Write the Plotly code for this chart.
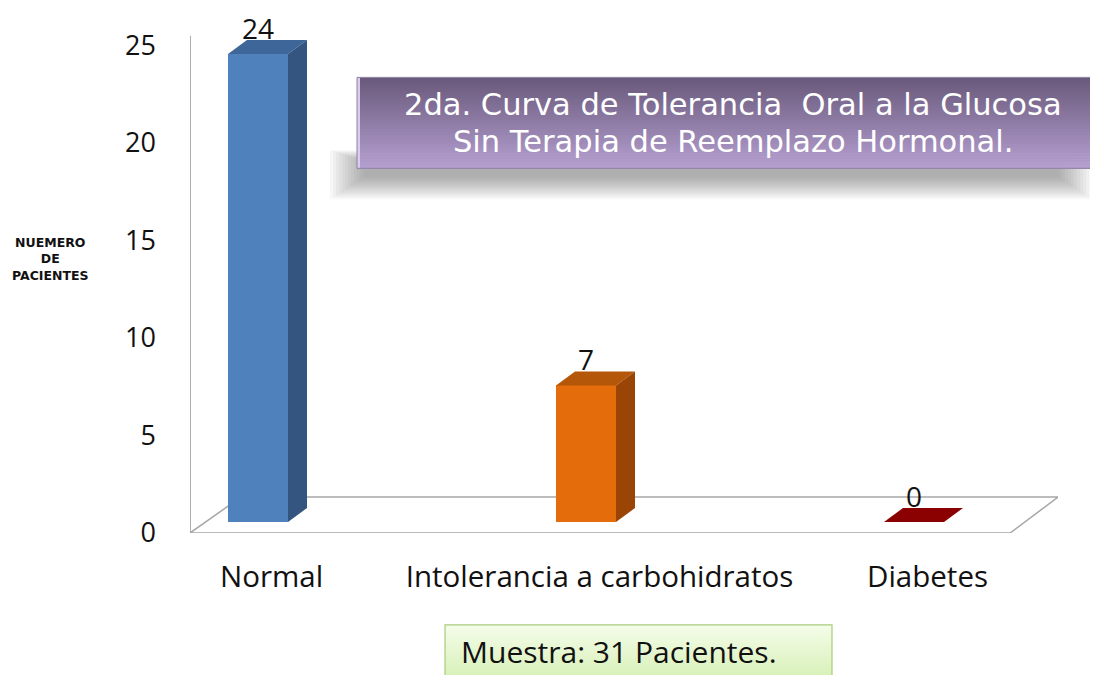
import plotly.graph_objects as go

# ---- data ----
categories = ["Normal", "Intolerancia a carbohidratos", "Diabetes"]
values = [24, 7, 0]
front_colors = ["#4f81bd", "#e46c0a", "#8b0000"]
side_colors = ["#34557f", "#9a4506", "#8b0000"]
top_colors = ["#3e6698", "#b55708", "#8b0000"]
y_ticks = [0, 5, 10, 15, 20, 25]
title_lines = ["2da. Curva de Tolerancia\u00a0 Oral a la Glucosa",
               "Sin Terapia de Reemplazo Hormonal."]
footer_text = "Muestra: 31 Pacientes."
y_title = "NUEMERO<br>DE<br>PACIENTES"

# ---- geometry (page px; the page body has an 8px margin) ----
OFF = 8
W, H = 1098 - OFF, 675 - OFF
px_y = 19.52
y_range = [0, 26.2]
L = 190 - OFF
R = W - (1058 - OFF)
B = H - (533 - OFF)
plot_h = px_y * (y_range[1] - y_range[0])
T = H - B - plot_h
plot_w = W - L - R
x_range = [-0.2073, 2.4390]
px_x = plot_w / (x_range[1] - x_range[0])

bar_w = 60 / px_x
base_off = 11 / px_y          # bars sit in middle of the floor depth
dx = 19 / px_x                # 3D depth offset
dy = 14 / px_y
floor_back_y = 36 / px_y
floor_back_dx = 51 / px_x
floor_right_dx = 48 / px_x

xs = list(range(len(categories)))

fig = go.Figure()
fig.add_trace(go.Bar(
    x=xs, y=values, base=[base_off] * len(values), width=bar_w,
    marker=dict(color=front_colors, line=dict(width=0)),
    hoverinfo="skip", showlegend=False,
))

shapes = []
# floor outline
fx0, fx1 = x_range[0], 2.293
floor_col = "#a6a6a6"
shapes.append(dict(type="path", xref="x", yref="y",
                   path=f"M {fx0},0 L {fx1},0 L {fx1 + floor_right_dx},{floor_back_y} "
                        f"L {fx0 + floor_back_dx},{floor_back_y} Z",
                   line=dict(color=floor_col, width=1.5), fillcolor="rgba(0,0,0,0)",
                   layer="below"))
# vertical axis line
shapes.append(dict(type="line", xref="x", yref="y", x0=fx0, x1=fx0, y0=0, y1=25.5,
                   line=dict(color=floor_col, width=1.8), layer="below"))

# 3D faces of bars
for i, v in enumerate(values):
    xl = xs[i] - bar_w / 2
    xr = xs[i] + bar_w / 2
    yb = base_off
    yt = base_off + v
    shapes.append(dict(type="path", xref="x", yref="y",
                       path=f"M {xl},{yt} L {xr},{yt} L {xr + dx},{yt + dy} L {xl + dx},{yt + dy} Z",
                       fillcolor=top_colors[i], line=dict(width=0), layer="above"))
    if v > 0:
        shapes.append(dict(type="path", xref="x", yref="y",
                           path=f"M {xr},{yb} L {xr + dx},{yb + dy} L {xr + dx},{yt + dy} L {xr},{yt} Z",
                           fillcolor=side_colors[i], line=dict(width=0), layer="above"))


def pxx(p):
    return (p - OFF - L) / plot_w


def pxy(p):
    return (H - B - (p - OFF)) / plot_h


def px_rect(x0, y0, x1, y1, **kw):
    return dict(type="rect", xref="paper", yref="paper",
                x0=pxx(x0), x1=pxx(x1), y0=pxy(y1), y1=pxy(y0), **kw)


def lerp(c1, c2, t):
    return "#%02x%02x%02x" % tuple(int(round(a + (b - a) * t)) for a, b in zip(c1, c2))


# title box shadow (soft)
for k in range(12):
    shapes.append(px_rect(330 + k * 3, 150 + k, 1092 - k * 3, 199 - k * 2,
                          fillcolor="rgba(80,80,80,0.045)", line=dict(width=0), layer="above"))
# title box gradient
n = 30
tb_x0, tb_x1, tb_y0, tb_y1 = 357, 1110, 77, 168
c_top, c_bot = (0x6a, 0x5a, 0x7c), (0xb4, 0x9e, 0xcf)
for k in range(n):
    y0 = tb_y0 + (tb_y1 - tb_y0) * k / n
    y1 = tb_y0 + (tb_y1 - tb_y0) * (k + 1) / n + 0.6
    shapes.append(px_rect(tb_x0, y0, tb_x1, y1, fillcolor=lerp(c_top, c_bot, k / (n - 1)),
                          line=dict(width=0), layer="above"))
shapes.append(px_rect(tb_x0, tb_y0, tb_x0 + 3, tb_y1, fillcolor="#d9cdee",
                      line=dict(width=0), layer="above"))
shapes.append(px_rect(tb_x0, tb_y0, tb_x1, tb_y1, fillcolor="rgba(0,0,0,0)",
                      line=dict(color="#8e80a3", width=1), layer="above"))

# footer box gradient
fb_x0, fb_x1, fb_y0, fb_y1 = 445, 832, 625, 690
g_top, g_bot = (0xf4, 0xfc, 0xe8), (0xd2, 0xee, 0xae)
for k in range(n):
    y0 = fb_y0 + (fb_y1 - fb_y0) * k / n
    y1 = fb_y0 + (fb_y1 - fb_y0) * (k + 1) / n + 0.6
    shapes.append(px_rect(fb_x0, y0, fb_x1, y1, fillcolor=lerp(g_top, g_bot, k / (n - 1)),
                          line=dict(width=0), layer="above"))
shapes.append(px_rect(fb_x0, fb_y0, fb_x1, fb_y1, fillcolor="rgba(0,0,0,0)",
                      line=dict(color="#a8cc7a", width=1.2), layer="above"))

body_font = "Open Sans, Lato, sans-serif"
annotations = []
# value labels
for i, v in enumerate(values):
    annotations.append(dict(x=xs[i], y=base_off + v + dy, xref="x", yref="y",
                            text=str(v), showarrow=False, xanchor="center", yanchor="bottom",
                            yshift=-9,
                            font=dict(family=body_font, size=28, color="#111111")))
# title text
for j, line in enumerate(title_lines):
    annotations.append(dict(x=pxx(733), y=pxy(104 + 37 * j), xref="paper", yref="paper",
                            text=line, showarrow=False, xanchor="center", yanchor="middle",
                            font=dict(family="DejaVu Sans, Liberation Sans, sans-serif",
                                      size=30.5, color="white")))
# footer text
annotations.append(dict(x=pxx(459), y=pxy(652), xref="paper", yref="paper",
                        text=footer_text, showarrow=False, xanchor="left", yanchor="middle",
                        font=dict(family=body_font, size=30, color="#111111")))
# y axis title
annotations.append(dict(x=pxx(50), y=pxy(259), xref="paper", yref="paper",
                        text=f"<b>{y_title}</b>", showarrow=False, align="center",
                        xanchor="center", yanchor="middle",
                        font=dict(family="DejaVu Sans, sans-serif", size=12.5, color="#111111")))

label_shift = (dx / 2) + 4 / px_x

fig.update_layout(
    width=W, height=H,
    margin=dict(l=L, r=R, t=T, b=B, pad=0),
    paper_bgcolor="white", plot_bgcolor="white",
    shapes=shapes, annotations=annotations,
    bargap=0,
    xaxis=dict(range=x_range, showgrid=False, zeroline=False, showline=False,
               tickmode="array", tickvals=[x + label_shift for x in xs], ticktext=categories,
               ticks="", ticklabelstandoff=23,
               tickfont=dict(family=body_font, size=29.5, color="#111111")),
    yaxis=dict(range=y_range, showgrid=False, zeroline=False, showline=False,
               tickmode="array", tickvals=y_ticks, ticktext=[str(t) for t in y_ticks],
               ticks="", ticklabelstandoff=33,
               tickfont=dict(family=body_font, size=27, color="#111111")),
)

fig.write_html("out.html")
